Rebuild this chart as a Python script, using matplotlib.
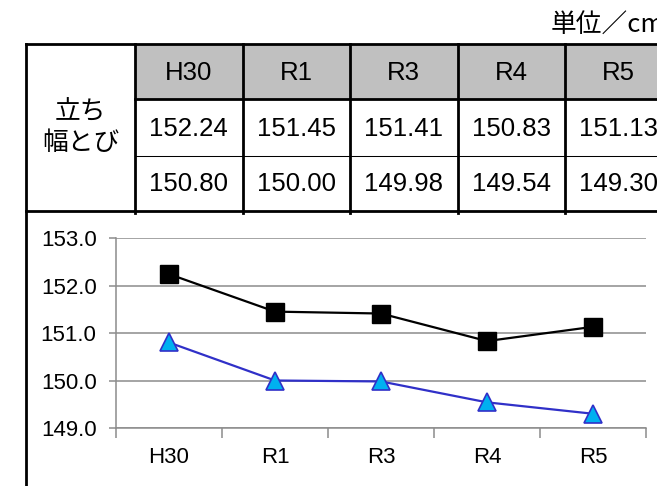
import matplotlib
matplotlib.use('Agg')
from matplotlib import pyplot as plt
from matplotlib.patches import Rectangle
from matplotlib.ticker import FixedLocator, FormatStrFormatter

years = ['H30', 'R1', 'R3', 'R4', 'R5']
boys = [152.24, 151.45, 151.41, 150.83, 151.13]
girls = [150.80, 150.00, 149.98, 149.54, 149.30]
row_label = '立ち\n幅とび'
unit_label = '単位／cm'

W, H = 657, 486
fig = plt.figure(figsize=(W / 100, H / 100), dpi=100)

# table drawn in pixel coordinates on a full-figure axes
bg = fig.add_axes([0, 0, 1, 1])
bg.set_xlim(0, W)
bg.set_ylim(H, 0)
bg.axis('off')

left, first_col, col_w = 26, 135, 107.5
row_y = [44, 99, 156, 211]
thick, thin = 2.0, 0.75
tfont = dict(family=['Liberation Sans', 'DejaVu Sans'], fontsize=18.5)
jfont = ['Noto Sans CJK JP', 'DejaVu Sans']

bg.add_patch(Rectangle((first_col, row_y[0]), W, row_y[1] - row_y[0],
                       facecolor='#c0c0c0', edgecolor='none'))

bg.plot([left, W], [row_y[0], row_y[0]], color='black', lw=thick)
bg.plot([first_col, W], [row_y[1], row_y[1]], color='black', lw=thick)
bg.plot([first_col, W], [row_y[2], row_y[2]], color='black', lw=thin)
bg.plot([left, W], [row_y[3], row_y[3]], color='black', lw=thick)
bg.plot([left, left], [row_y[0], H], color='black', lw=thick)
for i in range(len(years) + 1):
    x = first_col + i * col_w
    bg.plot([x, x], [row_y[0], row_y[3] + 2], color='black', lw=thick)

for i, yr in enumerate(years):
    cx = first_col + (i + 0.5) * col_w
    bg.text(cx, (row_y[0] + row_y[1]) / 2 + 1, yr, ha='center', va='center', **tfont)
    bg.text(cx, (row_y[1] + row_y[2]) / 2 + 1, '%.2f' % boys[i], ha='center', va='center', **tfont)
    bg.text(cx, (row_y[2] + row_y[3]) / 2, '%.2f' % girls[i], ha='center', va='center', **tfont)

bg.text((left + first_col) / 2, (row_y[0] + row_y[3]) / 2, row_label, ha='center',
        va='center', multialignment='center', family=jfont, fontsize=18.5, linespacing=1.2)
bg.text(551, 26, unit_label, ha='left', va='center', family=jfont, fontsize=18.5)

# line chart
ax = fig.add_axes([116 / W, (H - 428) / H, 530 / W, 190 / H])
ax.patch.set_alpha(0)
xs = range(len(years))
ax.plot(xs, boys, color='black', lw=1.6, marker='s', markersize=12.5,
        markerfacecolor='black', markeredgecolor='black', zorder=3)
ax.plot(xs, girls, color='#3030c8', lw=1.6, marker='^', markersize=12.5,
        markerfacecolor='#00b0f0', markeredgecolor='#3030c8', markeredgewidth=1.2, zorder=3)

ax.set_xlim(-0.5, len(years) - 0.5)
ax.set_ylim(149, 153)
ax.set_yticks([149, 150, 151, 152, 153])
ax.yaxis.set_major_formatter(FormatStrFormatter('%.1f'))
ax.set_xticks(list(xs))
ax.set_xticklabels(years)
ax.xaxis.set_minor_locator(FixedLocator([i - 0.5 for i in range(len(years) + 1)]))
ax.grid(axis='y', color='#8c8c8c', lw=1.1)
ax.set_axisbelow(True)
for s in ['top', 'right']:
    ax.spines[s].set_visible(False)
for s in ['left', 'bottom']:
    ax.spines[s].set_color('#8c8c8c')
    ax.spines[s].set_linewidth(1.1)
ax.tick_params(axis='y', length=5, width=1.1, color='#8c8c8c', pad=9,
               labelsize=16, labelfontfamily='Liberation Sans')
ax.tick_params(axis='x', which='major', length=0, pad=14,
               labelsize=16, labelfontfamily='Liberation Sans')
ax.tick_params(axis='x', which='minor', length=7, width=1.1, color='#8c8c8c')

fig.savefig('out.png', dpi=100)
